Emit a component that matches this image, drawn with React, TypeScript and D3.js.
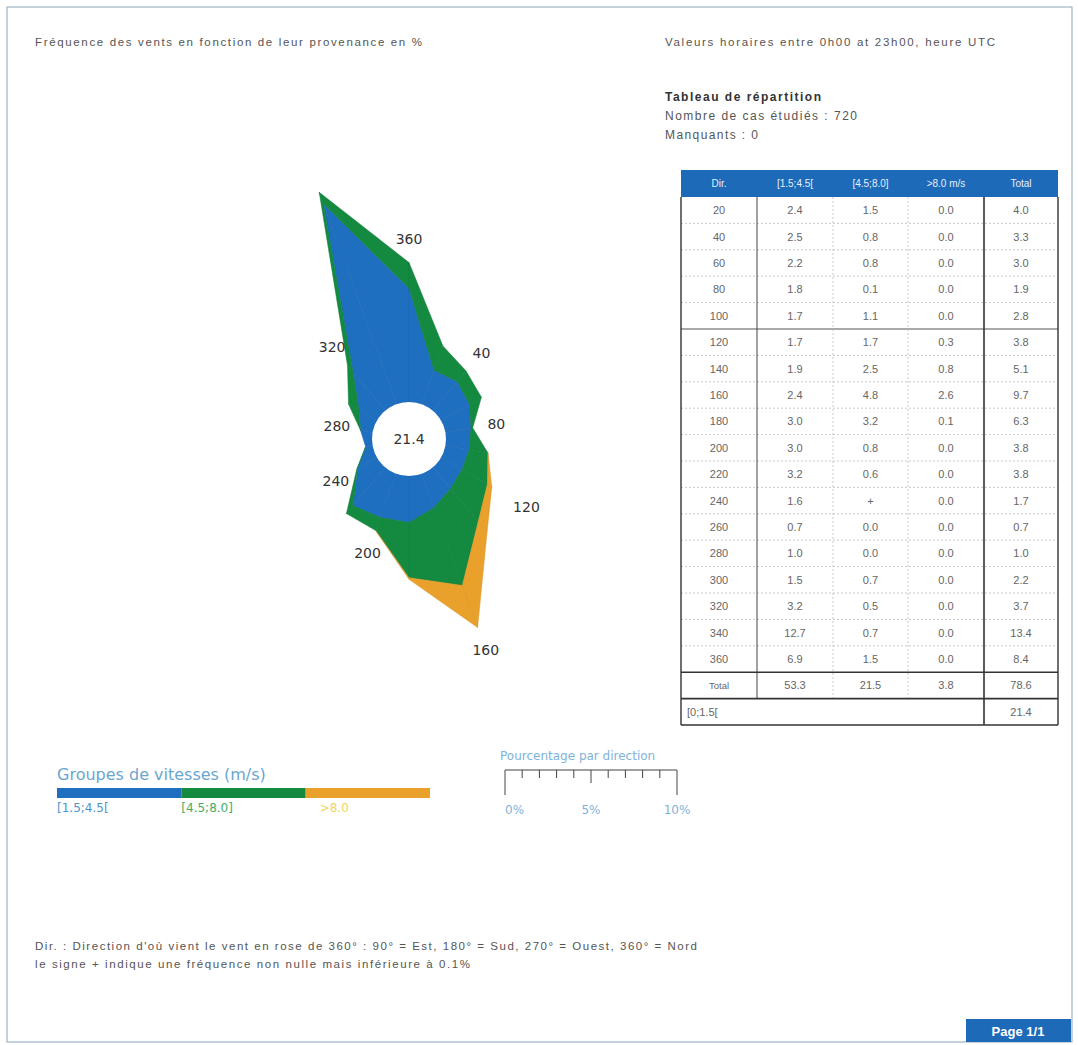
import * as d3 from 'd3';

// wind directions (degrees, where the wind comes from)
const directions = [20, 40, 60, 80, 100, 120, 140, 160, 180, 200, 220, 240, 260, 280, 300, 320, 340, 360];
// frequencies (%) per speed group
const speedLow = [2.4, 2.5, 2.2, 1.8, 1.7, 1.7, 1.9, 2.4, 3.0, 3.0, 3.2, 1.6, 0.7, 1.0, 1.5, 3.2, 12.7, 6.9];
const speedMid = [1.5, 0.8, 0.8, 0.1, 1.1, 1.7, 2.5, 4.8, 3.2, 0.8, 0.6, 0.05, 0.0, 0.0, 0.7, 0.5, 0.7, 1.5];
const speedHigh = [0.0, 0.0, 0.0, 0.0, 0.0, 0.3, 0.8, 2.6, 0.1, 0.0, 0.0, 0.0, 0.0, 0.0, 0.0, 0.0, 0.0, 0.0];
const rowTotals = [4.0, 3.3, 3.0, 1.9, 2.8, 3.8, 5.1, 9.7, 6.3, 3.8, 3.8, 1.7, 0.7, 1.0, 2.2, 3.7, 13.4, 8.4];
const groupTotals = [53.3, 21.5, 3.8];
const grandTotal = 78.6;
const calm = 21.4;

const groupLabels = ['[1.5;4.5[', '[4.5;8.0]', '>8.0'];
const tableHeaders = ['Dir.', '[1.5;4.5[', '[4.5;8.0]', '>8.0 m/s', 'Total'];
const scaleTicks = [0, 5, 10];

const colors = ['#1f6fc1', '#138a40', '#e9a12c'];
const legendText = ['#4f93cc', '#3fae66', '#f2d45e'];

const W = 1078;
const H = 1045;
const sans = '"Liberation Sans", Arial, sans-serif';
const deja = '"DejaVu Sans", sans-serif';

const fmt = (v: number) => (v > 0 && v < 0.1 ? '+' : v.toFixed(1));

function Rose() {
  const cx = 409;
  const cy = 439;
  const r = d3.scaleLinear().domain([0, 10]).range([32, 204]);
  const ang = d3.scaleLinear().domain([0, 360]).range([0, 2 * Math.PI]);
  const bands = [speedLow, speedMid, speedHigh];
  const cum: number[][] = [directions.map(() => 0)];
  bands.forEach((b, k) => cum.push(b.map((v, i) => cum[k][i] + v)));

  const quad = d3
    .lineRadial<[number, number]>()
    .angle((d) => d[0])
    .radius((d) => d[1])
    .curve(d3.curveLinearClosed);

  const n = directions.length;
  const shapes: JSX.Element[] = [];
  bands.forEach((b, k) => {
    for (let i = 0; i < n; i++) {
      const j = (i + 1) % n;
      if (b[i] === 0 && b[j] === 0) continue;
      const pts: [number, number][] = [
        [ang(directions[i]), r(cum[k][i])],
        [ang(directions[i]), r(cum[k + 1][i])],
        [ang(directions[j]), r(cum[k + 1][j])],
        [ang(directions[j]), r(cum[k][j])],
      ];
      shapes.push(
        <path
          key={`b${k}-${i}`}
          d={quad(pts) || ''}
          fill={colors[k]}
          stroke={d3.color(colors[k])!.darker(0.25).toString()}
          strokeWidth={0.5}
          strokeLinejoin="round"
        />
      );
    }
  });

  const labels = directions
    .map((d, i) => ({ d, i }))
    .filter((o) => o.d % 40 === 0)
    .map(({ d, i }) => {
      const rr = r(cum[3][i]) + (d === 120 ? 40 : 24);
      const a = ang(d);
      return (
        <text
          key={`l${d}`}
          x={cx + rr * Math.sin(a)}
          y={cy - rr * Math.cos(a)}
          textAnchor="middle"
          dominantBaseline="central"
          fontFamily={deja}
          fontSize={14}
          fill="#333"
        >
          {d}
        </text>
      );
    });

  return (
    <g>
      <g transform={`translate(${cx},${cy})`}>
        {shapes}
        <circle r={37} fill="#fff" />
        <text textAnchor="middle" dominantBaseline="central" fontFamily={deja} fontSize={14} fill="#333">
          {calm.toFixed(1)}
        </text>
      </g>
      {labels}
    </g>
  );
}

function Table() {
  const cols = [681, 757, 833, 908, 984, 1058];
  const top = 170;
  const headH = 27;
  const rowH = 26.4;
  const y0 = top + headH;
  const yTot = y0 + rowH * directions.length;
  const yCalm = yTot + rowH;
  const yEnd = yCalm + rowH;
  const mid = (c: number) => (cols[c] + cols[c + 1]) / 2;
  const txt = { fontFamily: sans, fontSize: 11, fill: '#666', textAnchor: 'middle' as const, dominantBaseline: 'central' as const };

  const rows = directions.map((d, i) => {
    const y = y0 + rowH * (i + 0.5);
    const vals = [String(d), fmt(speedLow[i]), fmt(speedMid[i]), fmt(speedHigh[i]), fmt(rowTotals[i])];
    return (
      <g key={d}>
        {vals.map((v, c) => (
          <text key={c} x={mid(c)} y={y} {...txt}>
            {v}
          </text>
        ))}
      </g>
    );
  });

  const hlines = d3.range(1, directions.length).map((i) => {
    const y = y0 + rowH * i;
    const solid = i === 5;
    return (
      <line
        key={`h${i}`}
        x1={cols[0]}
        x2={cols[5]}
        y1={y}
        y2={y}
        stroke={solid ? '#555' : '#bbb'}
        strokeWidth={solid ? 1 : 0.8}
        strokeDasharray={solid ? undefined : '2 2'}
      />
    );
  });

  return (
    <g>
      <rect x={cols[0]} y={top} width={cols[5] - cols[0]} height={headH} fill="#1c6ab8" />
      {tableHeaders.map((h, c) => (
        <text key={h} x={mid(c)} y={top + headH / 2} {...txt} fill="#e8f0fa" fontSize={10}>
          {h}
        </text>
      ))}
      {rows}
      {hlines}
      {/* dashed inner columns */}
      {[2, 3].map((c) => (
        <line key={`v${c}`} x1={cols[c]} x2={cols[c]} y1={y0} y2={yCalm} stroke="#bbb" strokeWidth={0.8} strokeDasharray="2 2" />
      ))}
      <line x1={cols[1]} x2={cols[1]} y1={y0} y2={yCalm} stroke="#444" strokeWidth={1} />
      <line x1={cols[4]} x2={cols[4]} y1={y0} y2={yEnd} stroke="#333" strokeWidth={1.6} />
      <line x1={cols[0]} x2={cols[0]} y1={y0} y2={yEnd} stroke="#333" strokeWidth={1.4} />
      <line x1={cols[5]} x2={cols[5]} y1={y0} y2={yEnd} stroke="#333" strokeWidth={1.4} />
      <line x1={cols[0]} x2={cols[5]} y1={yTot} y2={yTot} stroke="#333" strokeWidth={1.6} />
      <line x1={cols[0]} x2={cols[5]} y1={yCalm} y2={yCalm} stroke="#333" strokeWidth={1.6} />
      <line x1={cols[0]} x2={cols[5]} y1={yEnd} y2={yEnd} stroke="#333" strokeWidth={1.4} />
      <text x={mid(0)} y={yTot + rowH / 2} {...txt} fontSize={9.5}>
        Total
      </text>
      {groupTotals.map((v, c) => (
        <text key={`t${c}`} x={mid(c + 1)} y={yTot + rowH / 2} {...txt}>
          {v.toFixed(1)}
        </text>
      ))}
      <text x={mid(4)} y={yTot + rowH / 2} {...txt}>
        {grandTotal.toFixed(1)}
      </text>
      <text x={cols[0] + 6} y={yCalm + rowH / 2} {...txt} textAnchor="start">
        [0;1.5[
      </text>
      <text x={mid(4)} y={yCalm + rowH / 2} {...txt}>
        {calm.toFixed(1)}
      </text>
    </g>
  );
}

function Legend() {
  const x = d3.scaleLinear().domain([0, 3]).range([57, 430]);
  return (
    <g>
      <text x={57} y={780} fontFamily={deja} fontSize={16} fill="#6aa6cf">
        Groupes de vitesses (m/s)
      </text>
      {colors.map((c, i) => (
        <rect key={c} x={x(i)} y={788} width={x(i + 1) - x(i)} height={10} fill={c} />
      ))}
      {groupLabels.map((l, i) => (
        <text key={l} x={x(i) + (i === 2 ? 14 : 0)} y={812} fontFamily={deja} fontSize={12} fill={legendText[i]}>
          {l}
        </text>
      ))}
    </g>
  );
}

function ScaleBar() {
  const x = d3.scaleLinear().domain([0, 10]).range([505, 677]);
  const yb = 770;
  return (
    <g>
      <text x={500} y={760} fontFamily={deja} fontSize={12} fill="#7fb3d8">
        Pourcentage par direction
      </text>
      <line x1={x(0)} x2={x(10)} y1={yb} y2={yb} stroke="#444" strokeWidth={1.2} />
      {d3.range(0, 11).map((t) => (
        <line
          key={t}
          x1={x(t)}
          x2={x(t)}
          y1={yb}
          y2={yb + (t === 0 || t === 10 ? 25 : t === 5 ? 13 : 8)}
          stroke="#444"
          strokeWidth={1}
        />
      ))}
      {scaleTicks.map((t) => (
        <text key={t} x={x(t)} y={814} textAnchor={t === 0 ? 'start' : 'middle'} fontFamily={deja} fontSize={12} fill="#7fb3d8">
          {t}%
        </text>
      ))}
    </g>
  );
}

// text stretched to the width it has in the report
function Stretch({ x, y, w, bold, size, fill, children }: any) {
  return (
    <text
      x={x}
      y={y}
      fontFamily={sans}
      fontSize={size || 11.5}
      fontWeight={bold ? 'bold' : 'normal'}
      fill={fill || '#555'}
      textLength={w}
      lengthAdjust="spacing"
    >
      {children}
    </text>
  );
}

export default function App() {
  return (
    <svg
      width={W}
      height={H}
      style={{ position: 'absolute', left: 0, top: 0, background: '#fff' }}
    >
      <rect x={0} y={0} width={W} height={H} fill="#fff" />
      <rect x={7} y={7} width={1065} height={1035} fill="none" stroke="#9fb3c6" strokeWidth={1.2} />
      <Stretch x={35} y={46} w={387}>
        Fréquence des vents en fonction de leur provenance en %
      </Stretch>
      <Stretch x={665} y={46} w={330}>
        Valeurs horaires entre 0h00 at 23h00, heure UTC
      </Stretch>
      <Stretch x={665} y={101} w={156} bold size={12} fill="#333">
        Tableau de répartition
      </Stretch>
      <Stretch x={665} y={120} w={192} size={12}>
        Nombre de cas étudiés : 720
      </Stretch>
      <Stretch x={665} y={139} w={93} size={12}>
        Manquants : 0
      </Stretch>
      <Rose />
      <Table />
      <Legend />
      <ScaleBar />
      <Stretch x={35} y={950} w={662}>
        Dir. : Direction d'où vient le vent en rose de 360° : 90° = Est, 180° = Sud, 270° = Ouest, 360° = Nord
      </Stretch>
      <Stretch x={35} y={968} w={435}>
        le signe + indique une fréquence non nulle mais inférieure à 0.1%
      </Stretch>
      <rect x={966} y={1019} width={105} height={23} fill="#1c6ab8" />
      <text x={1018} y={1031} textAnchor="middle" dominantBaseline="central" fontFamily={sans} fontSize={13} fontWeight="bold" fill="#fff">
        Page 1/1
      </text>
    </svg>
  );
}
